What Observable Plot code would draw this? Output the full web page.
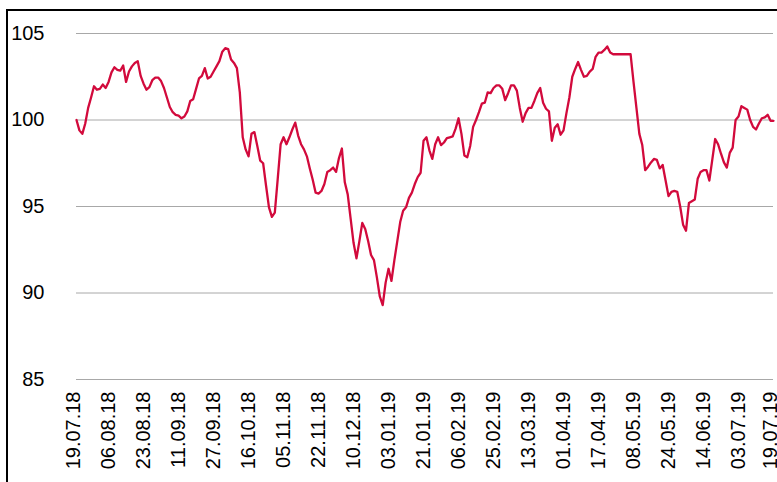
<!DOCTYPE html>
<html>
<head>
<meta charset="utf-8">
<script src="https://cdn.jsdelivr.net/npm/d3@7"></script>
<script src="https://cdn.jsdelivr.net/npm/@observablehq/plot@0.6"></script>
<style>
  html, body { margin: 0; padding: 0; background: #fff; overflow: hidden; width: 777px; height: 482px; }
  #frame { position: absolute; left: 6px; top: 9px; width: 2000px; height: 2000px; border-left: 2px solid #000; border-top: 2px solid #000; }
  #chart { position: absolute; left: 0; top: 0; }
  #chart svg { font-family: "Liberation Sans", Arial, Helvetica, sans-serif; }
</style>
</head>
<body>
<div id="frame"></div>
<div id="chart"></div>
<script>
// Index level per trading day
const values = [
  100.0, 99.4, 99.2, 99.8, 100.7, 101.3, 101.95, 101.75, 101.8, 102.05,
  101.85, 102.2, 102.75, 103.05, 102.9, 102.85, 103.15, 102.2, 102.8, 103.1,
  103.3, 103.4, 102.55, 102.1, 101.75, 101.9, 102.3, 102.45, 102.45, 102.25,
  101.85, 101.3, 100.75, 100.45, 100.3, 100.25, 100.1, 100.2, 100.5, 101.1,
  101.2, 101.8, 102.4, 102.55, 103.0, 102.4, 102.5, 102.8, 103.1, 103.4,
  103.95, 104.15, 104.1, 103.5, 103.3, 103.0, 101.6, 99.0, 98.3, 97.9,
  99.2, 99.3, 98.5, 97.65, 97.5, 96.2, 94.95, 94.4, 94.65, 96.6,
  98.6, 99.0, 98.6, 99.0, 99.45, 99.85, 99.1, 98.6, 98.3, 97.9,
  97.2, 96.55, 95.8, 95.75, 95.9, 96.3, 97.0, 97.1, 97.25, 97.0,
  97.8, 98.35, 96.4, 95.7, 94.3, 92.9, 92.0, 93.0, 94.05, 93.7,
  93.0, 92.2, 91.9, 90.9, 89.8, 89.3, 90.6, 91.4, 90.7, 91.9,
  93.0, 94.1, 94.75, 94.95, 95.5, 95.8, 96.3, 96.7, 96.95, 98.8,
  99.0, 98.25, 97.75, 98.6, 99.0, 98.55, 98.7, 98.95, 99.0, 99.05,
  99.5, 100.1, 99.2, 97.95, 97.85, 98.5, 99.6, 100.0, 100.45, 100.95,
  101.0, 101.6, 101.55, 101.85, 102.0, 102.0, 101.8, 101.15, 101.55, 102.0,
  102.0, 101.7, 100.7, 99.9, 100.4, 100.7, 100.7, 101.1, 101.55, 101.85,
  101.0, 100.65, 100.5, 98.8, 99.55, 99.75, 99.15, 99.4, 100.4, 101.3,
  102.5, 102.95, 103.35, 102.9, 102.5, 102.55, 102.8, 102.95, 103.65, 103.9,
  103.9, 104.05, 104.25, 103.9, 103.8, 103.8, 103.8, 103.8, 103.8, 103.8,
  103.8, 102.2, 100.7, 99.2, 98.55, 97.1, 97.3, 97.55, 97.75, 97.7,
  97.2, 97.4, 96.5, 95.6, 95.85, 95.9, 95.85, 95.0, 93.95, 93.6,
  95.2, 95.3, 95.4, 96.6, 97.0, 97.1, 97.1, 96.5, 97.7, 98.9,
  98.6, 98.05, 97.55, 97.25, 98.1, 98.4, 100.0, 100.2, 100.8, 100.7,
  100.6, 100.0, 99.6, 99.45, 99.8, 100.1, 100.15, 100.3, 99.95, 99.95
];

// Date labels on the x axis and the trading-day index they sit at
const tickLabels = [
  "19.07.18", "06.08.18", "23.08.18", "11.09.18", "27.09.18", "16.10.18",
  "05.11.18", "22.11.18", "10.12.18", "03.01.19", "21.01.19", "06.02.19",
  "25.02.19", "13.03.19", "01.04.19", "17.04.19", "08.05.19", "24.05.19",
  "14.06.19", "03.07.19", "19.07.19"
];
const tickIndex = [0, 12, 24, 36, 48, 60, 72, 84, 96, 108, 120, 132, 144, 156, 168, 180, 192, 204, 216, 228, 239];

const yTicks = [85, 90, 95, 100, 105];

const data = values.map((v, i) => ({i, v}));
const labelOf = new Map(tickIndex.map((t, k) => [t, tickLabels[k]]));

const chart = Plot.plot({
  width: 777,
  height: 482,
  marginLeft: 76,
  marginRight: 4,
  marginTop: 33,
  marginBottom: 103,
  style: {background: "transparent", fontSize: "20px", color: "#000"},
  x: {domain: [0, values.length - 1]},
  y: {domain: [85, 105]},
  marks: [
    Plot.gridY(yTicks, {stroke: "#a8a8a8", strokeOpacity: 1, strokeWidth: 1}),
    Plot.axisY({ticks: yTicks, tickSize: 0, tickPadding: 32, fontSize: 20, label: null}),
    Plot.axisX({ticks: tickIndex, tickFormat: (d) => labelOf.get(d), tickRotate: -90, tickSize: 0, tickPadding: 12, dx: -3, fontSize: 20, label: null}),
    Plot.line(data, {x: "i", y: "v", stroke: "#d20a3c", strokeWidth: 2.3, strokeLinejoin: "round"})
  ]
});
document.getElementById("chart").appendChild(chart);
</script>
</body>
</html>
